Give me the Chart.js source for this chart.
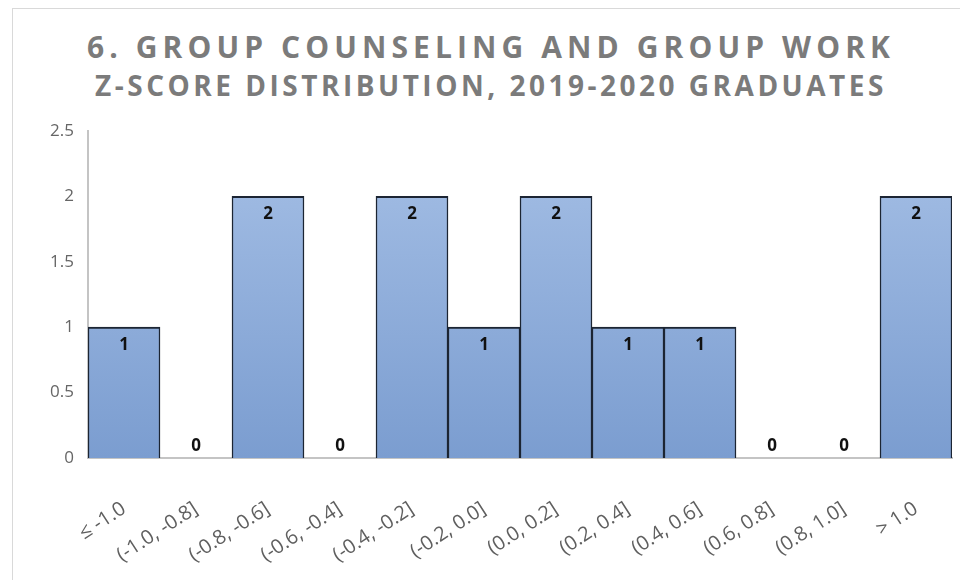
<!DOCTYPE html>
<html>
<head>
<meta charset="utf-8">
<script src="https://cdn.jsdelivr.net/npm/chart.js@4"></script>
<style>
    body { margin: 0; background: #fff; }
    #wrap { position: relative; width: 960px; height: 580px; overflow: hidden; }
    #frame { position: absolute; left: 12px; top: 8px; width: 980px; height: 600px; border: 1px solid #d9d9d9; }
    .title { position: absolute; left: 0; width: 982px; text-align: center; color: #7b7b7b;
             font-family: "Open Sans", sans-serif; font-weight: 700; white-space: nowrap; }
    #t1 { top: 26px; font-size: 30px; letter-spacing: 5.1px; }
    #t2 { top: 66px; font-size: 28px; letter-spacing: 3.5px; }
    canvas { position: absolute; left: 0; top: 0; }
</style>
</head>
<body>
<div id="wrap">
    <div id="frame"></div>
    <div class="title" id="t1">6. GROUP COUNSELING AND GROUP WORK</div>
    <div class="title" id="t2">Z-SCORE DISTRIBUTION, 2019-2020 GRADUATES</div>
    <canvas id="myChart" width="960" height="580"></canvas>
</div>
<script>
const xValues = ["≤ -1.0", "(-1.0, -0.8]", "(-0.8, -0.6]", "(-0.6, -0.4]", "(-0.4, -0.2]", "(-0.2, 0.0]",
    "(0.0, 0.2]", "(0.2, 0.4]", "(0.4, 0.6]", "(0.6, 0.8]", "(0.8, 1.0]", "> 1.0"];
const yValues = [1, 0, 2, 0, 2, 1, 2, 1, 1, 0, 0, 2];
const yTicks = [0, 0.5, 1, 1.5, 2, 2.5];

// bar fill: light blue at top, a bit darker at the bottom
function barFill(ctx) {
    const area = ctx.chart.chartArea;
    if (!area) return "#8eaedc";
    const g = ctx.chart.ctx.createLinearGradient(0, area.top, 0, area.bottom);
    g.addColorStop(0, "#a6c0e6");
    g.addColorStop(1, "#7b9dd0");
    return g;
}

// value labels, inside the top of each bar (zero bars: just above the axis)
const valueLabels = {
    id: "valueLabels",
    afterDatasetsDraw(chart) {
        const ctx = chart.ctx;
        const meta = chart.getDatasetMeta(0);
        ctx.save();
        ctx.font = "bold 17px 'Open Sans', sans-serif";
        ctx.fillStyle = "#111";
        ctx.textAlign = "center";
        ctx.textBaseline = "middle";
        meta.data.forEach((bar, i) => {
            const v = yValues[i];
            const y = v > 0 ? bar.y + 18 : bar.y - 12;
            ctx.fillText(v, bar.x, y);
        });
        ctx.restore();
    }
};

new Chart("myChart", {
    type: "bar",
    data: {
        labels: xValues,
        datasets: [{
            data: yValues,
            backgroundColor: barFill,
            borderColor: "#1c2533",
            borderWidth: { top: 2, left: 1.5, right: 1.5, bottom: 0 },
            barPercentage: 1,
            categoryPercentage: 1
        }]
    },
    options: {
        responsive: false,
        animation: false,
        layout: { padding: { top: 131, left: 20, right: 8, bottom: 0 } },
        plugins: {
            legend: { display: false },
            tooltip: { enabled: false }
        },
        scales: {
            x: {
                grid: { display: false, drawTicks: false },
                border: { display: true, color: "#c4c4c4", width: 2 },
                ticks: {
                    color: "#5f5f5f",
                    font: { family: "'Open Sans', sans-serif", size: 20 },
                    minRotation: 33,
                    maxRotation: 33,
                    padding: 39
                },
                afterFit(scale) {
                    scale.height = 122;
                    scale.paddingLeft = 0;
                    scale.paddingRight = 0;
                }
            },
            y: {
                min: 0,
                max: 2.5,
                afterBuildTicks(scale) { scale.ticks = yTicks.map(v => ({ value: v })); },
                grid: { display: false, drawTicks: false },
                border: { display: true, color: "#c4c4c4", width: 2 },
                ticks: {
                    color: "#666",
                    font: { family: "'Open Sans', sans-serif", size: 17 },
                    padding: 14,
                    callback: v => String(v)
                },
                afterFit(scale) { scale.width = 68; }
            }
        }
    },
    plugins: [valueLabels]
});
</script>
</body>
</html>
